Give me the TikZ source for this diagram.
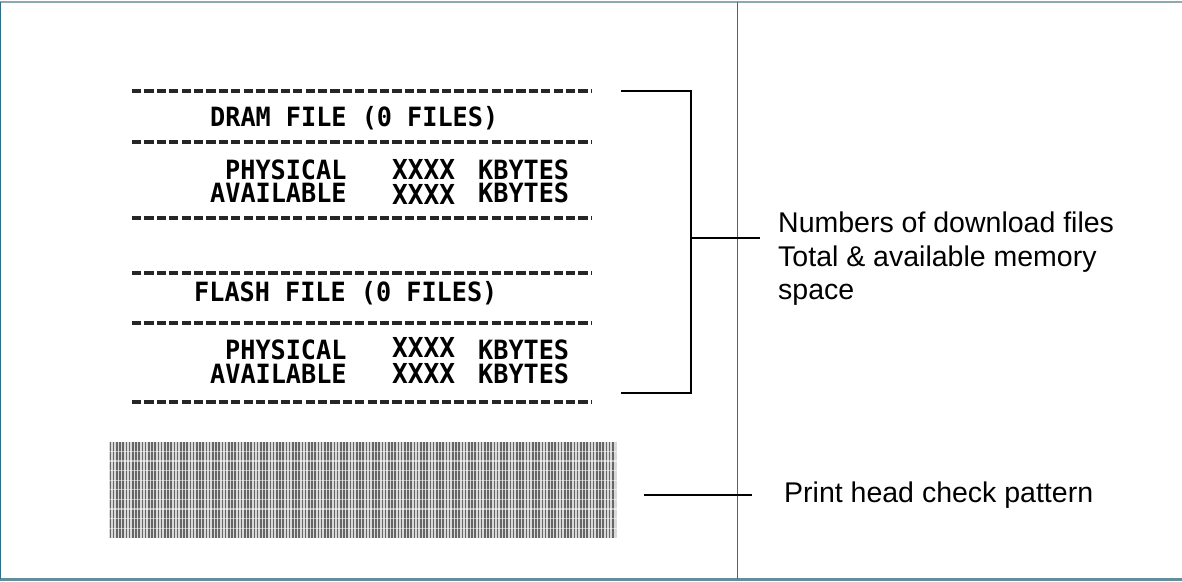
\documentclass[tikz,border=0pt]{standalone}
\usepackage{fontspec}
\usetikzlibrary{calc}
\setmainfont{Liberation Sans}
\newfontfamily\printerfont[FakeStretch=0.95]{DejaVu Sans Mono}
\definecolor{frameteal}{HTML}{2F6F8A}
\definecolor{frametop}{HTML}{8FA9B1}
\definecolor{framebot}{HTML}{5E8F9B}
\begin{document}
\begin{tikzpicture}[x=1pt,y=-1pt,
  prt/.style={inner sep=0pt,anchor=base west,text height=19pt,text depth=0pt,font=\printerfont\fontsize{26.5}{28}\selectfont\bfseries},
  prtx/.style={prt,font=\printerfont\fontsize{27.5}{28}\selectfont\bfseries},
  dashrow/.style={line width=3.2pt,black!85,dash pattern=on 9.2pt off 3.2pt},
  lbl/.style={inner sep=0pt,anchor=north west,align=left,font=\fontsize{28.5}{33.5}\selectfont},
  conn/.style={line width=1.6pt,black},
  stripe/.style={line width=1.6pt,black!60},
]
\useasboundingbox (0,0) rectangle (1182,581);
% frame
\draw[frametop,line width=2pt] (0,2) -- (1182,2);
\draw[framebot,line width=2.5pt] (0,579.5) -- (1182,579.5);
\draw[frameteal,line width=1pt] (0.5,2) -- (0.5,579);
\draw[frameteal,line width=1pt] (737.5,2) -- (737.5,579);

% dashed rows
\foreach \y in {91,142,218,273,323,402}
  \draw[dashrow] (132,\y) -- (591,\y);

% DRAM block
\node[prt] (dram) at (210,126) {DRAM FILE (0 FILES)};
\node[prt] (phys1) at (225,179) {PHYSICAL};
\node[prt] (avail1) at (210,202) {AVAILABLE};
\node[prtx] (x1a) at (392,179) {XXXX};
\node[prtx] (x1b) at (392,204) {XXXX};
\node[prt] (kb1a) at (478,179) {KBYTES};
\node[prt] (kb1b) at (478,202) {KBYTES};

% FLASH block
\node[prt] (flash) at (194,301) {FLASH FILE (0 FILES)};
\node[prt] (phys2) at (225,359) {PHYSICAL};
\node[prt] (avail2) at (210,383) {AVAILABLE};
\node[prtx] (x2a) at (392,357) {XXXX};
\node[prtx] (x2b) at (392,383) {XXXX};
\node[prt] (kb2a) at (478,359) {KBYTES};
\node[prt] (kb2b) at (478,383) {KBYTES};

% print head check pattern
\node[inner sep=0pt,minimum width=508pt,minimum height=96pt,fill=black!15] (pat) at (363,490) {};
\foreach \i in {0,...,157}
  \draw[stripe] ($(pat.north west)+(1.6+3.2*\i,0)$) -- ($(pat.south west)+(1.6+3.2*\i,0)$);
\foreach \k in {1,...,9}
  \draw[white,line width=1.3pt,opacity=0.5] ($(pat.north west)+(0,9.6*\k)$) -- ($(pat.north east)+(0,9.6*\k)$);

% bracket
\coordinate (bt) at (622,91);
\coordinate (btc) at (691,91);
\coordinate (bb) at (622,393);
\coordinate (bbc) at (691,393);
\coordinate (bm) at (691,238);
\coordinate (bme) at (760,238);
\draw[conn,line cap=rect] (bt) -- (btc) -- (bbc) -- (bb);
\draw[conn] (bm) -- (bme);

% labels
\node[lbl] (memlbl) at (778,212) {Numbers of download files\\Total \& available memory\\space};
\node[lbl,anchor=base west] (patlbl) at (784,502) {Print head check pattern};

% pattern connector
\coordinate (ps) at (644,495);
\coordinate (pe) at (752,495);
\draw[line width=1.3pt] (ps) -- (pe);
\end{tikzpicture}
\end{document}
